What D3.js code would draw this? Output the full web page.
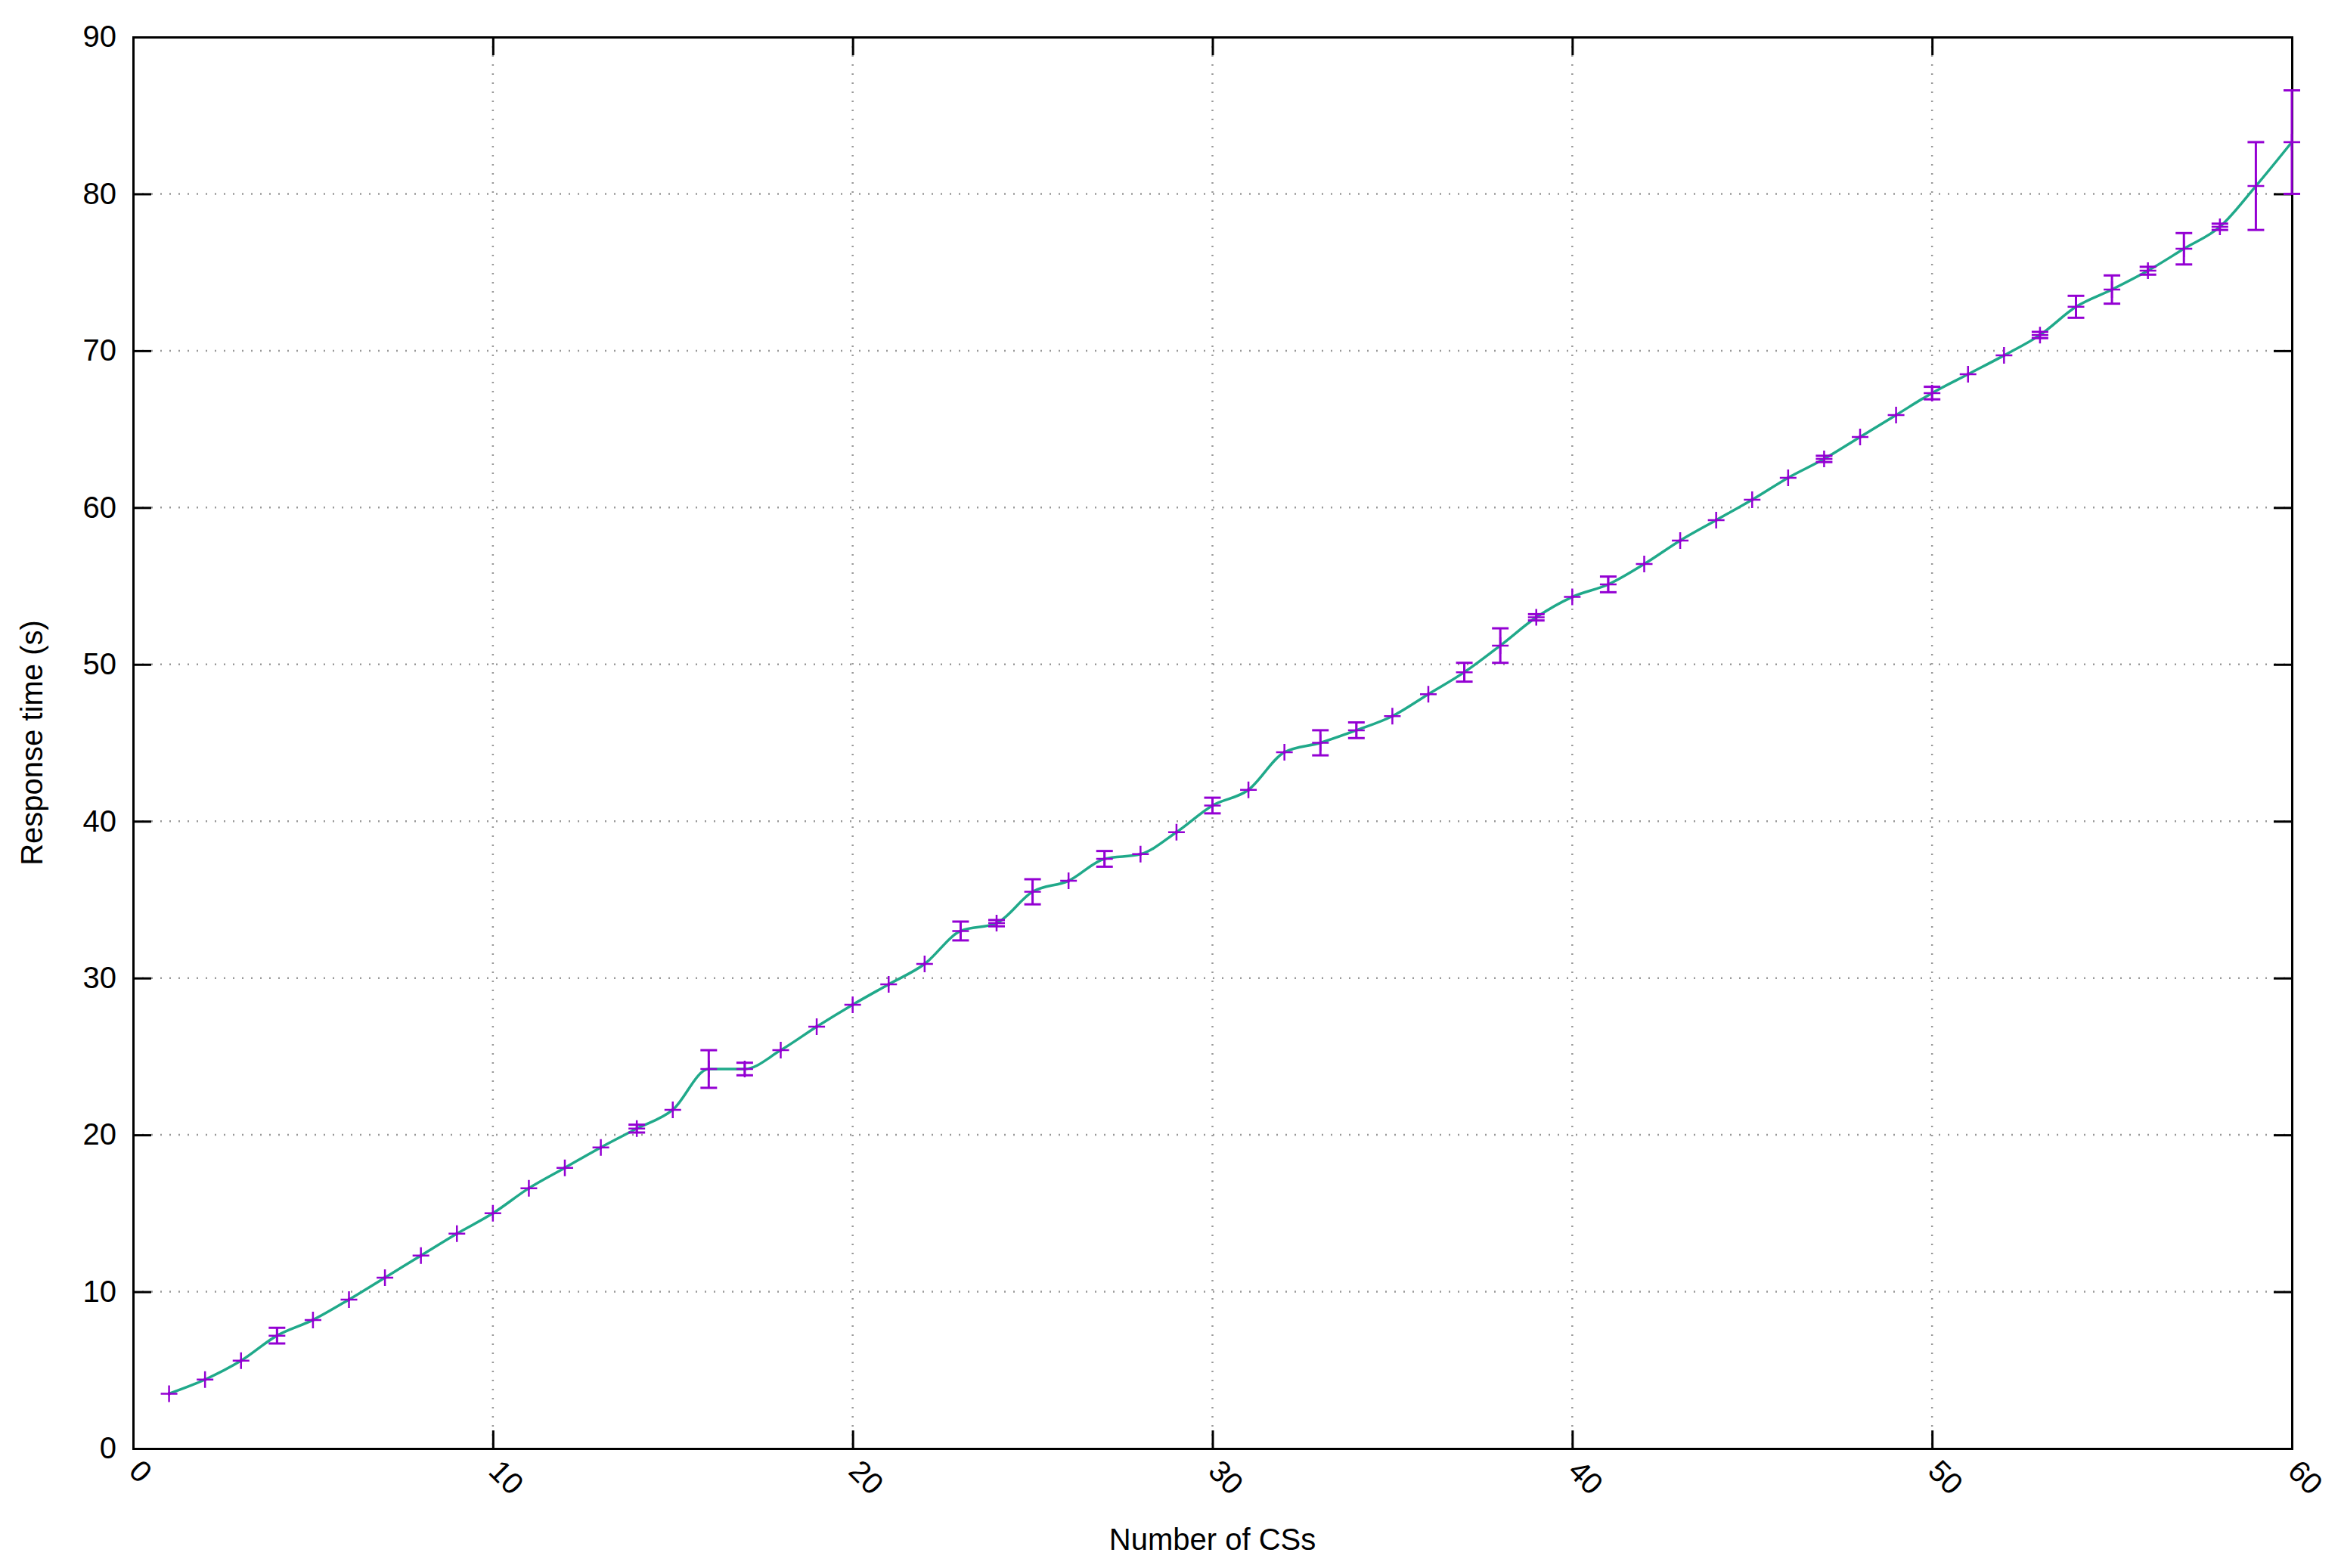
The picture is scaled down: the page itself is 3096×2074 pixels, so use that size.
<!DOCTYPE html>
<html><head><meta charset="utf-8">
<script src="https://cdn.jsdelivr.net/npm/d3@7"></script>
<style>body{margin:0;background:#fff}</style></head>
<body><svg id="c" width="3096" height="2074"></svg>
<script>
const xs = d3.range(1,61);
const means = [3.5,4.4,5.6,7.2,8.2,9.5,10.9,12.3,13.7,15.0,16.6,17.9,19.2,20.4,21.6,24.2,24.2,25.4,26.9,28.3,29.6,30.9,33.0,33.5,35.5,36.2,37.6,37.9,39.3,41.0,42.0,44.4,45.0,45.8,46.7,48.1,49.5,51.2,53.0,54.3,55.1,56.4,57.9,59.2,60.5,61.9,63.1,64.5,65.9,67.3,68.5,69.7,71.0,72.8,73.9,75.1,76.5,77.9,80.5,83.3];
const errs = [0.1,0.1,0.1,0.5,0.1,0.1,0.1,0.1,0.1,0.1,0.1,0.1,0.1,0.25,0.1,1.2,0.4,0.1,0.1,0.1,0.1,0.1,0.6,0.2,0.8,0.1,0.5,0.1,0.1,0.5,0.1,0.1,0.8,0.5,0.1,0.1,0.6,1.1,0.2,0.1,0.5,0.1,0.1,0.1,0.1,0.1,0.2,0.1,0.1,0.4,0.1,0.1,0.2,0.7,0.9,0.25,1.0,0.2,2.8,3.3];
const xTicks = [0,10,20,30,40,50,60];
const yTicks = [0,10,20,30,40,50,60,70,80,90];
const L=176,R=3031,T=49,B=1916;
const svg=d3.select("#c");
const x=d3.scaleLinear().domain([0,60]).range([L,R]);
const y=d3.scaleLinear().domain([0,90]).range([B,T]);
const font="Liberation Sans, Arial, sans-serif";
const g=svg.append("g");
g.selectAll(".gx").data(xTicks.slice(1,-1)).join("line").attr("x1",d=>x(d)).attr("x2",d=>x(d)).attr("y1",T).attr("y2",B).attr("stroke","#999").attr("stroke-width",2.5).attr("stroke-dasharray","2,10");
g.selectAll(".gy").data(yTicks.slice(1,-1)).join("line").attr("y1",d=>y(d)).attr("y2",d=>y(d)).attr("x1",L).attr("x2",R).attr("stroke","#999").attr("stroke-width",2.5).attr("stroke-dasharray","2,10");
const ax=(gen,tr)=>svg.append("g").attr("transform",tr).call(gen);
const bottom=ax(d3.axisBottom(x).tickValues(xTicks).tickSize(-24).tickPadding(0).tickFormat(d3.format("d")),`translate(0,${B})`);
bottom.selectAll("text").attr("font-size",40).attr("font-family",font).attr("text-anchor","start").attr("y",0).attr("dy",0).attr("transform","translate(-8,32) rotate(45)");
ax(d3.axisTop(x).tickValues(xTicks).tickSize(-24).tickFormat(""),`translate(0,${T})`);
const left=ax(d3.axisLeft(y).tickValues(yTicks).tickSize(-24).tickPadding(22),`translate(${L},0)`);
left.selectAll("text").attr("font-size",40).attr("font-family",font);
ax(d3.axisRight(y).tickValues(yTicks).tickSize(-24).tickFormat(""),`translate(${R},0)`);
svg.selectAll(".domain").attr("stroke","#000").attr("stroke-width",3);
svg.selectAll(".tick line").attr("stroke","#000").attr("stroke-width",3);
svg.selectAll(".tick text").attr("fill","#000");
svg.append("text").attr("x",(L+R)/2).attr("y",2050).attr("text-anchor","middle").attr("font-size",40).attr("font-family",font).text("Number of CSs");
svg.append("text").attr("transform",`translate(56,${(T+B)/2}) rotate(-90)`).attr("text-anchor","middle").attr("font-size",40).attr("font-family",font).text("Response time (s)");
const data=xs.map((d,i)=>({x:d,m:means[i],e:errs[i]}));
svg.append("path").datum(data).attr("fill","none").attr("stroke","#20a98a").attr("stroke-width",3.5)
 .attr("d",d3.line().x(d=>x(d.x)).y(d=>y(d.m)).curve(d3.curveMonotoneX));
const col="#9400d3";
const eb=svg.append("g").attr("stroke",col).attr("stroke-width",3);
eb.selectAll(".v").data(data).join("line").attr("x1",d=>x(d.x)).attr("x2",d=>x(d.x)).attr("y1",d=>y(d.m-d.e)).attr("y2",d=>y(d.m+d.e));
[-1,1].forEach(s=>eb.selectAll(".c"+s).data(data.filter(d=>d.e>0.15)).join("line").attr("x1",d=>x(d.x)-11).attr("x2",d=>x(d.x)+11).attr("y1",d=>y(d.m+s*d.e)).attr("y2",d=>y(d.m+s*d.e)));
eb.selectAll(".p").data(data).join("path").attr("stroke-width",2.5).attr("d",d=>{const cx=x(d.x),cy=y(d.m);return `M${cx-11},${cy}H${cx+11}M${cx},${cy-11}V${cy+11}`;});
</script></body></html>
